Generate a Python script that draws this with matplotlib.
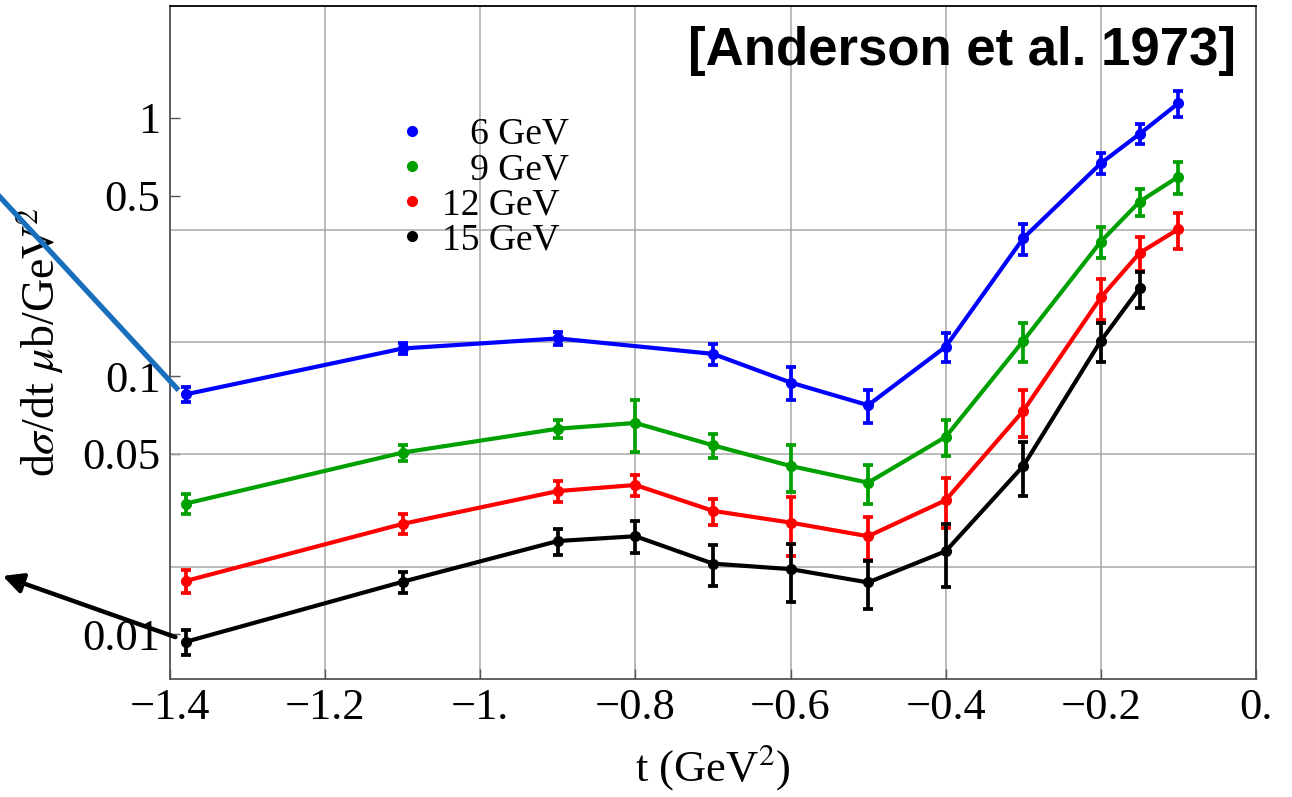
import numpy as np
import matplotlib
matplotlib.use('Agg')
import matplotlib.pyplot as plt
from matplotlib.lines import Line2D
from matplotlib.ticker import FixedLocator, NullFormatter

plt.rcParams['font.family'] = ['Liberation Serif', 'DejaVu Serif']
plt.rcParams['mathtext.fontset'] = 'stix'

# data: t in GeV^2, dsigma/dt in mub/GeV^2
t6 = [-1.38, -1.1, -0.9, -0.7, -0.6, -0.5, -0.4, -0.3, -0.2, -0.15, -0.1]
y6 = [0.085, 0.128, 0.140, 0.122, 0.0945, 0.0772, 0.130, 0.342, 0.667, 0.867, 1.14]
e6 = [0.0056, 0.0059, 0.0077, 0.0117, 0.0138, 0.0113, 0.0164, 0.048, 0.062, 0.076, 0.13]

t9 = [-1.38, -1.1, -0.9, -0.8, -0.7, -0.6, -0.5, -0.4, -0.3, -0.2, -0.15, -0.1]
y9 = [0.0321, 0.0506, 0.0626, 0.0659, 0.054, 0.0449, 0.0387, 0.0582, 0.137, 0.332, 0.474, 0.592]
e9 = [0.0029, 0.0037, 0.0048, 0.0149, 0.0059, 0.0092, 0.0066, 0.0093, 0.0233, 0.046, 0.057, 0.083]

t12 = [-1.38, -1.1, -0.9, -0.8, -0.7, -0.6, -0.5, -0.4, -0.3, -0.2, -0.15, -0.1]
y12 = [0.0161, 0.0268, 0.0359, 0.0379, 0.0301, 0.0271, 0.0240, 0.0331, 0.0734, 0.2017, 0.300, 0.371]
e12 = [0.0016, 0.0024, 0.0032, 0.0035, 0.0035, 0.0069, 0.0045, 0.0073, 0.0151, 0.036, 0.0455, 0.059]

t15 = [-1.38, -1.1, -0.9, -0.8, -0.7, -0.6, -0.5, -0.4, -0.3, -0.2, -0.15]
y15 = [0.00936, 0.0160, 0.0230, 0.0240, 0.0188, 0.0179, 0.0159, 0.0210, 0.0449, 0.137, 0.219]
e15 = [0.0010, 0.0015, 0.0027, 0.0034, 0.0034, 0.0045, 0.0034, 0.0058, 0.0106, 0.0232, 0.035]

labels = ['\u2007 6 GeV', '\u2007 9 GeV', '12 GeV', '15 GeV']
colors = ['#0000ff', '#00a000', '#ff0000', '#000000']

xticks = [-1.4, -1.2, -1.0, -0.8, -0.6, -0.4, -0.2, 0.0]
xticklabels = ['\u22121.4', '\u22121.2', '\u22121.', '\u22120.8', '\u22120.6', '\u22120.4', '\u22120.2', '0.']
yticks = [1, 0.5, 0.1, 0.05, 0.01]
yticklabels = ['1', '0.5', '0.1', '0.05', '0.01']
ygrid = [np.exp(-n) for n in range(0, 5)]

fig = plt.figure(figsize=(12.92, 7.97), dpi=100)
ax = fig.add_axes([0.1316, 0.1484, 0.8405, 0.8444])

series = [(t6, y6, e6), (t9, y9, e9), (t12, y12, e12), (t15, y15, e15)]
handles = []
for (t, y, e), c in zip(series, colors):
    ax.errorbar(t, y, yerr=e, color=c, lw=3, marker='o', ms=7,
                elinewidth=2.7, capsize=3.8, capthick=2.7, zorder=3)
    handles.append(Line2D([], [], ls='none', marker='o', ms=7, color=c))

ax.set_yscale('log')
ax.set_xlim(-1.4, 0)
ax.set_ylim(np.exp(-5), np.exp(1))

ax.set_xticks(xticks)
ax.set_xticklabels(xticklabels)
ax.yaxis.set_major_locator(FixedLocator(yticks))
ax.set_yticklabels(yticklabels)
ax.yaxis.set_minor_locator(FixedLocator(ygrid))
ax.yaxis.set_minor_formatter(NullFormatter())

ax.tick_params(which='major', direction='in', length=7, width=1, color='#555555',
               labelsize=32, pad=7)
ax.tick_params(axis='y', which='minor', length=0)
ax.xaxis.grid(True, which='major', color='#a8a8a8', lw=1.1)
ax.yaxis.grid(True, which='minor', color='#a8a8a8', lw=1.1)
ax.yaxis.grid(False, which='major')
ax.set_axisbelow(True)
for s in ['left', 'right', 'bottom']:
    ax.spines[s].set_color('#555555')
    ax.spines[s].set_linewidth(1.3)
ax.spines['top'].set_color('black')
ax.spines['top'].set_linewidth(1.3)

ax.set_xlabel('t (GeV$^2$)', fontsize=32, labelpad=10)
ax.set_ylabel(r'd$\sigma$/dt $\mu$b/GeV$^2$', fontsize=33, labelpad=12)

leg = ax.legend(handles, labels, loc='upper left', bbox_to_anchor=(0.195, 0.862),
                frameon=False, fontsize=27, handlelength=0.6, handletextpad=0.5,
                labelspacing=0.02, borderpad=0)

ax.text(0.982, 0.912, '[Anderson et al. 1973]', transform=ax.transAxes,
        ha='right', va='baseline', fontsize=38, fontweight='bold',
        family=['Liberation Sans', 'DejaVu Sans'])

# overlay marks from the slide: a blue line and a black arrow
fig.add_artist(Line2D([0.0, 0.1368], [0.7528, 0.5128], transform=fig.transFigure,
                      color='#1a6fbd', lw=3.8, zorder=10))
ax.annotate('', xy=(0.0, 0.2785), xycoords='figure fraction',
            xytext=(0.1378, 0.1995), textcoords='figure fraction',
            arrowprops=dict(arrowstyle='-|>', color='black', lw=3.2, mutation_scale=30),
            annotation_clip=False, zorder=10)

fig.savefig('out.png', dpi=100)
